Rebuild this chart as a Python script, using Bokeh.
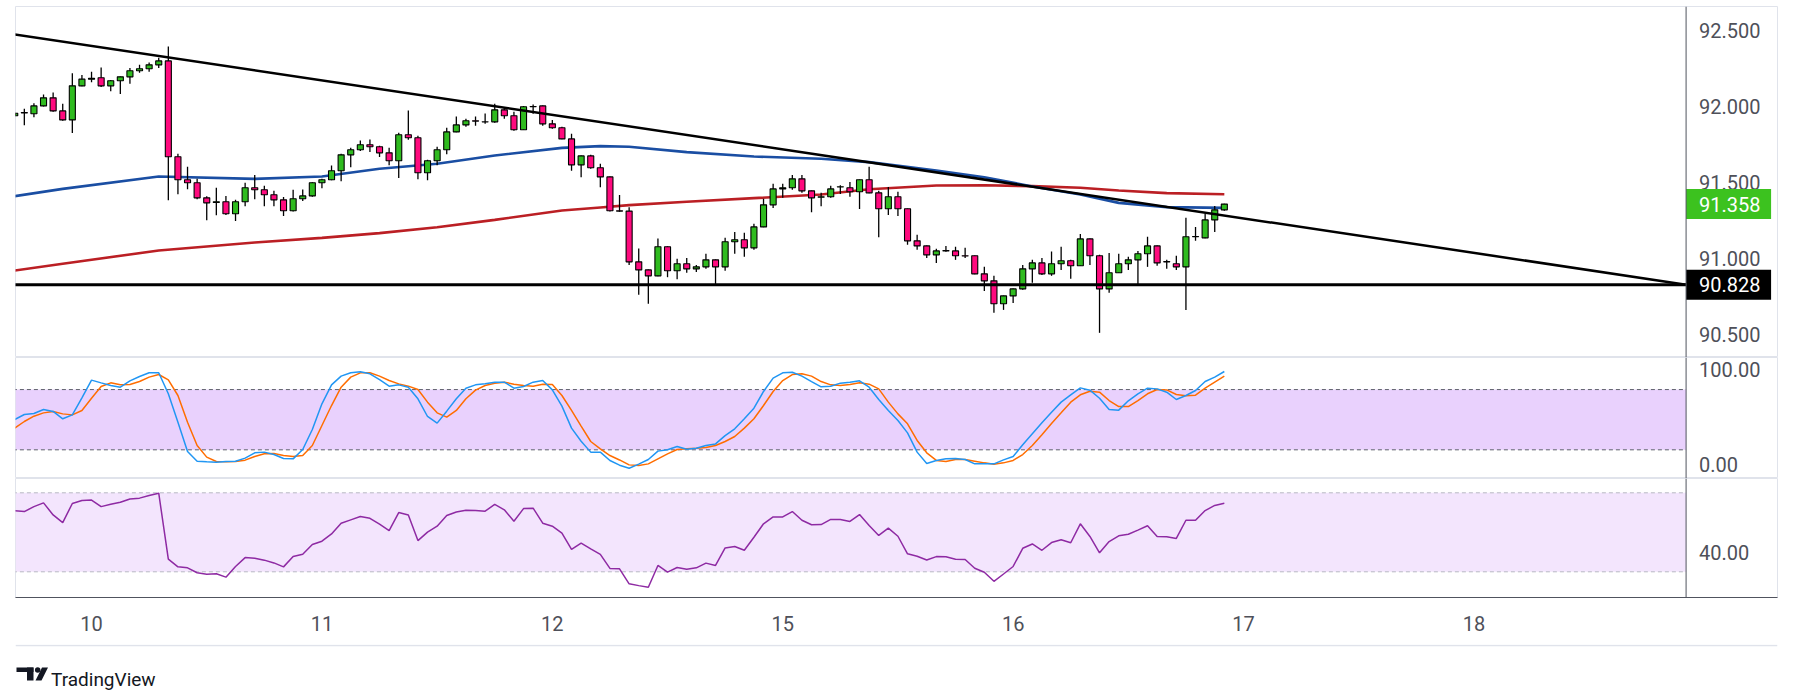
from bokeh.plotting import figure
from bokeh.layouts import column
from bokeh.models import (Range1d, FixedTicker, Span, BoxAnnotation, ColumnDataSource)
from bokeh.embed import file_html
from bokeh.resources import INLINE
from bokeh.core.properties import value

# ---------------- data (hourly candles, index 0 = day "10" 00:00) ----------------
bar_hours = list(range(-8, 119))
opens = [91.939, 91.961, 91.952, 92.004, 92.057, 91.971, 91.912, 92.136,
         92.180, 92.189, 92.136, 92.169, 92.195, 92.235, 92.248, 92.274, 92.300, 91.669,
         91.518, 91.498, 91.399, 91.368, 91.373, 91.294, 91.373, 91.465, 91.452, 91.419,
         91.386, 91.314, 91.393, 91.412, 91.498, 91.518, 91.577, 91.682, 91.715, 91.748,
         91.735, 91.695, 91.643, 91.814, 91.794, 91.564, 91.643, 91.715, 91.833, 91.879,
         91.906, 91.900, 91.899, 91.978, 91.939, 91.847, 91.998, 92.004, 91.886, 91.860,
         91.787, 91.616, 91.675, 91.597, 91.537, 91.314, 91.312, 90.978, 90.925, 90.886,
         91.077, 90.919, 90.965, 90.932, 90.945, 90.991, 90.945, 91.110, 91.123, 91.070,
         91.208, 91.353, 91.458, 91.465, 91.524, 91.445, 91.403, 91.406, 91.470, 91.465,
         91.439, 91.518, 91.432, 91.327, 91.406, 91.327, 91.116, 91.083, 91.024, 91.050,
         91.050, 91.018, 91.018, 90.899, 90.853, 90.702, 90.754, 90.800, 90.932, 90.971,
         90.899, 90.965, 90.985, 90.952, 91.129, 91.018, 90.800, 90.906, 90.965, 90.991,
         91.031, 91.083, 90.980, 90.965, 90.945, 91.143, 91.136, 91.254, 91.320]
highs = [91.963, 91.985, 92.022, 92.079, 92.092, 92.018, 92.219, 92.208,
         92.228, 92.257, 92.175, 92.197, 92.254, 92.274, 92.289, 92.320, 92.395, 91.689,
         91.603, 91.524, 91.410, 91.465, 91.412, 91.386, 91.498, 91.550, 91.478, 91.445,
         91.404, 91.452, 91.454, 91.502, 91.524, 91.612, 91.689, 91.728, 91.776, 91.783,
         91.741, 91.728, 91.827, 91.974, 91.807, 91.649, 91.735, 91.860, 91.934, 91.919,
         91.934, 91.954, 92.018, 91.991, 91.965, 92.004, 92.013, 92.006, 91.912, 91.866,
         91.820, 91.677, 91.682, 91.623, 91.540, 91.417, 91.338, 91.066, 90.928, 91.132,
         91.080, 90.998, 91.004, 90.958, 91.031, 90.994, 91.136, 91.175, 91.169, 91.228,
         91.393, 91.491, 91.491, 91.550, 91.550, 91.447, 91.432, 91.478, 91.482, 91.504,
         91.520, 91.603, 91.445, 91.471, 91.439, 91.329, 91.156, 91.085, 91.064, 91.083,
         91.077, 91.070, 91.020, 90.945, 90.886, 90.756, 90.802, 90.958, 90.991, 91.004,
         91.046, 91.077, 90.991, 91.162, 91.132, 91.024, 91.037, 91.031, 91.011, 91.050,
         91.143, 91.085, 90.991, 91.018, 91.268, 91.208, 91.294, 91.346, 91.360]
lows = [91.932, 91.877, 91.930, 92.000, 91.965, 91.906, 91.825, 92.133,
        92.160, 92.129, 92.101, 92.083, 92.149, 92.222, 92.228, 92.254, 91.384, 91.423,
        91.456, 91.390, 91.252, 91.285, 91.287, 91.246, 91.344, 91.390, 91.344, 91.344,
        91.279, 91.310, 91.379, 91.406, 91.463, 91.515, 91.509, 91.601, 91.708, 91.700,
        91.667, 91.614, 91.529, 91.781, 91.522, 91.515, 91.614, 91.686, 91.830, 91.866,
        91.873, 91.886, 91.893, 91.919, 91.840, 91.845, 91.952, 91.873, 91.853, 91.785,
        91.577, 91.535, 91.590, 91.469, 91.310, 91.307, 90.958, 90.761, 90.702, 90.883,
        90.877, 90.864, 90.906, 90.912, 90.932, 90.827, 90.919, 91.031, 91.011, 91.057,
        91.205, 91.333, 91.399, 91.452, 91.432, 91.305, 91.344, 91.399, 91.425, 91.406,
        91.325, 91.430, 91.140, 91.287, 91.279, 91.090, 91.057, 91.004, 90.971, 91.044,
        90.991, 91.004, 90.897, 90.787, 90.643, 90.662, 90.708, 90.794, 90.840, 90.892,
        90.886, 90.925, 90.866, 90.950, 90.958, 90.511, 90.774, 90.904, 90.925, 90.827,
        90.945, 90.952, 90.932, 90.925, 90.662, 91.116, 91.134, 91.175, 91.314]
closes = [91.956, 91.958, 92.004, 92.057, 91.971, 91.912, 92.136, 92.180,
          92.186, 92.136, 92.169, 92.195, 92.235, 92.248, 92.274, 92.300, 91.669, 91.518,
          91.498, 91.399, 91.366, 91.373, 91.294, 91.373, 91.465, 91.452, 91.419, 91.386,
          91.314, 91.393, 91.412, 91.498, 91.518, 91.577, 91.682, 91.715, 91.748, 91.735,
          91.695, 91.643, 91.814, 91.794, 91.564, 91.643, 91.715, 91.833, 91.879, 91.906,
          91.904, 91.899, 91.978, 91.939, 91.847, 91.998, 92.000, 91.886, 91.860, 91.787,
          91.616, 91.675, 91.597, 91.537, 91.314, 91.312, 90.978, 90.925, 90.886, 91.077,
          90.919, 90.965, 90.932, 90.945, 90.991, 90.945, 91.110, 91.123, 91.070, 91.208,
          91.353, 91.458, 91.465, 91.524, 91.445, 91.399, 91.406, 91.458, 91.472, 91.439,
          91.518, 91.432, 91.327, 91.406, 91.327, 91.116, 91.083, 91.024, 91.050, 91.052,
          91.018, 91.016, 90.899, 90.853, 90.702, 90.754, 90.800, 90.932, 90.971, 90.899,
          90.965, 90.985, 90.952, 91.129, 91.018, 90.800, 90.906, 90.965, 90.991, 91.031,
          91.083, 90.971, 90.978, 90.945, 91.143, 91.145, 91.254, 91.320, 91.358]

# moving averages read at sample points
ma_hours = [-8, -3, 7, 17, 24, 30, 36, 42, 49, 53, 56, 62, 69, 76, 81, 88, 93, 98, 103, 107, 112, 118]
ma_fast = [91.410, 91.458, 91.539, 91.524, 91.539, 91.590, 91.623, 91.678, 91.728, 91.739, 91.735,
           91.700, 91.671, 91.656, 91.634, 91.579, 91.535, 91.474, 91.421, 91.366, 91.338, 91.333]
ma_slow = [90.921, 90.965, 91.053, 91.105, 91.136, 91.167, 91.206, 91.254, 91.316, 91.336, 91.351,
           91.373, 91.397, 91.421, 91.456, 91.480, 91.482, 91.476, 91.465, 91.447, 91.430, 91.423]

# drawn lines
trend_hours = [-8.5, 166.1]
trend_values = [92.479, 90.828]
support_level = 90.828
last_price = 91.358

# stochastic RSI
stoch_k = [50.2, 55.2, 56.2, 60.2, 58.2, 50.9, 54.8, 71.8,
           89.4, 86.7, 84.1, 82.4, 88.7, 93.0, 96.7, 96.7, 75.8, 47.5,
           18.3, 8.7, 8.0, 7.7, 8.4, 8.7, 11.7, 17.0, 17.7, 15.3,
           11.4, 11.0, 20.3, 40.2, 65.8, 84.7, 93.4, 96.7, 97.7, 95.7,
           90.0, 83.4, 84.7, 82.4, 70.8, 53.2, 46.6, 58.5, 70.8, 81.4,
           84.7, 85.7, 87.4, 87.4, 81.4, 83.1, 87.4, 89.0, 79.7, 63.5,
           41.6, 28.6, 17.7, 17.7, 9.4, 4.7, 1.7, 5.7, 10.4, 18.7,
           20.0, 23.3, 20.6, 21.6, 24.3, 25.9, 34.2, 40.9, 50.9, 61.5,
           78.1, 91.4, 96.7, 97.3, 93.4, 88.0, 82.7, 83.4, 86.4, 87.4,
           88.7, 82.4, 70.1, 59.2, 49.2, 36.9, 17.7, 6.4, 9.4, 11.0,
           11.4, 10.4, 6.0, 6.0, 6.0, 10.0, 13.3, 25.0, 35.9, 46.9,
           57.5, 67.5, 74.8, 81.7, 79.4, 71.4, 60.2, 59.5, 68.8, 75.8,
           81.4, 80.7, 77.4, 70.1, 74.1, 79.1, 88.0, 92.4, 98.0]
stoch_d = [41.6, 48.2, 53.5, 56.8, 58.2, 55.8, 54.8, 59.2,
           71.4, 83.1, 86.7, 84.7, 85.1, 88.0, 92.4, 95.0, 89.7, 74.1,
           47.5, 24.3, 12.7, 8.4, 8.0, 8.4, 9.7, 13.4, 16.0, 16.3,
           14.3, 13.4, 14.3, 24.3, 44.2, 64.1, 82.4, 92.4, 96.7, 96.7,
           93.4, 89.0, 85.7, 83.4, 80.1, 67.5, 56.8, 52.5, 59.2, 70.8,
           79.4, 84.1, 86.4, 87.4, 85.4, 84.1, 83.4, 85.4, 85.1, 74.1,
           59.2, 43.6, 28.3, 21.0, 14.3, 9.9, 5.0, 4.4, 6.0, 11.0,
           16.0, 20.3, 21.0, 21.6, 22.3, 24.3, 28.3, 33.3, 41.6, 50.9,
           64.1, 78.1, 89.0, 95.0, 95.7, 93.4, 88.0, 84.7, 84.1, 85.1,
           86.7, 85.4, 80.7, 67.5, 55.8, 45.9, 29.3, 17.0, 9.4, 8.4,
           10.4, 10.4, 8.7, 7.0, 5.7, 7.0, 9.4, 15.3, 24.3, 34.9,
           46.2, 56.8, 67.5, 74.8, 78.4, 77.4, 69.1, 63.1, 63.1, 69.1,
           75.8, 80.1, 79.7, 75.1, 73.8, 74.4, 81.4, 87.4, 93.4]
stoch_band = (20, 80)

# RSI
rsi = [60.9, 60.5, 63.0, 64.9, 58.8, 54.9, 64.6, 66.1,
       66.3, 63.0, 64.2, 65.2, 66.9, 67.3, 68.6, 69.8, 36.4, 32.5,
       32.0, 29.5, 28.8, 29.0, 27.3, 32.7, 37.2, 36.9, 35.9, 34.5,
       32.5, 37.7, 38.9, 43.8, 45.5, 49.2, 54.6, 56.3, 58.0, 57.1,
       54.1, 50.9, 60.0, 58.8, 45.8, 50.1, 53.1, 58.5, 60.3, 61.2,
       61.0, 60.7, 64.1, 61.4, 55.6, 62.0, 62.2, 54.6, 53.1, 49.6,
       41.3, 44.5, 41.6, 38.8, 31.7, 31.5, 23.9, 23.0, 22.2, 33.2,
       29.8, 32.2, 31.3, 32.0, 34.4, 33.2, 42.1, 42.8, 40.9, 47.5,
       54.3, 57.8, 57.8, 60.5, 56.1, 53.8, 53.9, 56.5, 56.5, 55.5,
       59.0, 53.4, 48.4, 52.1, 48.0, 39.1, 37.9, 36.0, 37.7, 37.6,
       36.4, 36.2, 31.8, 29.8, 25.2, 28.9, 32.7, 41.9, 44.1, 40.9,
       44.8, 46.2, 44.7, 54.3, 47.9, 39.6, 45.3, 48.2, 49.0, 51.1,
       53.3, 47.9, 47.7, 46.9, 56.1, 56.1, 61.0, 63.6, 64.7]
rsi_band = (30, 70)

price_ticks = [90.5, 91.0, 91.5, 92.0, 92.5]
stoch_ticks = [0, 100]
rsi_ticks = [40]
day_ticks = [0, 24, 48, 72, 96, 120, 144]
day_labels = ["10", "11", "12", "15", "16", "17", "18"]

# ---------------- styling / layout constants ----------------
FONT = "Roboto"
FS = "20px"
UP = "#2fbb1f"
DOWN = "#ff0a7e"
TXT = "#4e5059"
SEP = "#e0e3eb"
AXL = "#50535e"
W = 1780
LEFT = 15                  # frame left edge (px)
RIGHT = 3
FRAME_W = W - LEFT - RIGHT # frame width (px)
PX_PER_BAR = 9.6
X0 = -7.92
X_END = X0 + FRAME_W / PX_PER_BAR
X1 = 166.1                 # price-scale separator position (bar units)
xr = Range1d(X0, X_END)


def pane(h, y0, y1, top=0, time_axis=False):
    p = figure(width=W, height=h, x_range=xr, y_range=Range1d(y0, y1),
               output_backend="svg", toolbar_location=None,
               x_axis_location="below" if time_axis else None,
               y_axis_location=None,
               min_border_left=LEFT, min_border_right=RIGHT, min_border_top=top,
               min_border_bottom=47 if time_axis else 0)
    p.grid.visible = False
    p.outline_line_color = SEP
    p.outline_line_width = 1
    p.background_fill_color = "white"
    p.border_fill_color = "white"
    p.add_layout(Span(location=X1, dimension="height", line_color=AXL, line_width=1))
    if time_axis:
        xa = p.xaxis[0]
        xa.ticker = FixedTicker(ticks=day_ticks)
        xa.major_label_overrides = {t: l for t, l in zip(day_ticks, day_labels)}
        xa.axis_line_color = AXL
        xa.major_tick_line_color = None
        xa.minor_tick_line_color = None
        xa.major_label_text_font = FONT
        xa.major_label_text_font_size = FS
        xa.major_label_text_color = TXT
        xa.major_label_standoff = 12
    return p


def scale_labels(p, ticks, fmt, y_off=0):
    p.text(x=[X1] * len(ticks), y=ticks, text=[fmt.format(t) for t in ticks],
           x_offset=13, y_offset=y_off, text_font=value(FONT), text_font_size=FS,
           text_color=TXT, text_align="left", text_baseline="middle")


def tag(p, y, text, bg, half_h):
    p.quad(left=[X1], right=[X1 + 85 / PX_PER_BAR], top=[y + half_h], bottom=[y - half_h],
           fill_color=bg, line_color=None)
    p.text(x=[X1], y=[y], text=[text], x_offset=13, text_font=value(FONT), text_font_size=FS,
           text_color="white", text_align="left", text_baseline="middle")


# ---------------- main price pane ----------------
PX_PER_PRICE = 152.0
main = pane(357, 90.3487, 92.6579, top=6)

main.line(ma_hours, ma_slow, line_color="#bb1f24", line_width=2.6)
main.line(ma_hours, ma_fast, line_color="#1a4ea3", line_width=2.6)

colors = [UP if c >= o else DOWN for o, c in zip(opens, closes)]
src = ColumnDataSource(dict(
    t=bar_hours, o=opens, h=highs, l=lows, c=closes,
    top=[max(o, c) for o, c in zip(opens, closes)],
    bot=[min(o, c) for o, c in zip(opens, closes)],
    col=colors))
main.segment(x0="t", y0="h", x1="t", y1="l", source=src, line_color="black", line_width=1.3)
main.vbar(x="t", top="top", bottom="bot", width=0.63, source=src,
          fill_color="col", line_color="black", line_width=1.1)

main.line(trend_hours, trend_values, line_color="black", line_width=2.5)
main.line([X0 - 1, X1], [support_level, support_level], line_color="black", line_width=3)

scale_labels(main, price_ticks, "{:.3f}")
tag(main, last_price, "91.358", "#3cc21f", 15 / PX_PER_PRICE)
tag(main, support_level, "90.828", "#000000", 15 / PX_PER_PRICE)

# ---------------- stochastic RSI pane ----------------
stp = pane(121, -8.57, 111.95)
stp.add_layout(BoxAnnotation(bottom=stoch_band[0], top=stoch_band[1], right=X1,
                             fill_color="#e9d1fd", fill_alpha=1.0, line_alpha=0, level="underlay"))
for lv in stoch_band:
    stp.line([X0 - 1, X1], [lv, lv], line_color="#5d606b", line_width=1, line_dash="4 3")
stp.line(bar_hours, stoch_d, line_color="#ff6d00", line_width=1.5)
stp.line(bar_hours, stoch_k, line_color="#2196f3", line_width=1.5)
scale_labels(stp, [stoch_ticks[1]], "{:.2f}")
scale_labels(stp, [stoch_ticks[0]], "{:.2f}", y_off=-5)

# ---------------- RSI pane with time axis ----------------
rp = pane(166, 16.99, 77.24, time_axis=True)
rp.add_layout(BoxAnnotation(bottom=rsi_band[0], top=rsi_band[1], right=X1,
                            fill_color="#f3e5fd", fill_alpha=1.0, line_alpha=0, level="underlay"))
for lv in rsi_band:
    rp.line([X0 - 1, X1], [lv, lv], line_color="#b8b8c4", line_width=1, line_dash="4 3")
rp.line(bar_hours, rsi, line_color="#8e2aa3", line_width=1.5)
scale_labels(rp, rsi_ticks, "{:.2f}")

# ---------------- logo strip (data coords = page pixels) ----------------
LOGO_H = 50
lg = figure(width=W, height=LOGO_H, x_range=Range1d(LEFT, W - RIGHT),
            y_range=Range1d(644 + LOGO_H, 644),
            output_backend="svg", toolbar_location=None,
            x_axis_location=None, y_axis_location=None,
            min_border_left=LEFT, min_border_right=RIGHT, min_border_top=0, min_border_bottom=0)
lg.grid.visible = False
lg.outline_line_color = None
lg.background_fill_color = "white"
lg.border_fill_color = "white"
INK = "#131722"
lg.line([LEFT, W - RIGHT], [645, 645], line_color=SEP, line_width=1.5)
lg.quad(left=[16], right=[33], top=[667], bottom=[671.5], fill_color=INK, line_color=None)
lg.quad(left=[26.5], right=[33], top=[667], bottom=[680], fill_color=INK, line_color=None)
lg.scatter([37.2], [669.6], size=5.5, marker="circle", fill_color=INK, line_color=None)
lg.patch([41.5, 47.5, 41.0, 35.0], [667, 667, 680, 680], fill_color=INK, line_color=None)
lg.text(x=[50.5], y=[679], text=["TradingView"], text_font=value(FONT), text_font_size="19px",
        text_color=INK, text_baseline="alphabetic", text_align="left")

layout = column(main, stp, rp, lg, spacing=0)
open("out.html", "w").write(file_html(layout, INLINE))
